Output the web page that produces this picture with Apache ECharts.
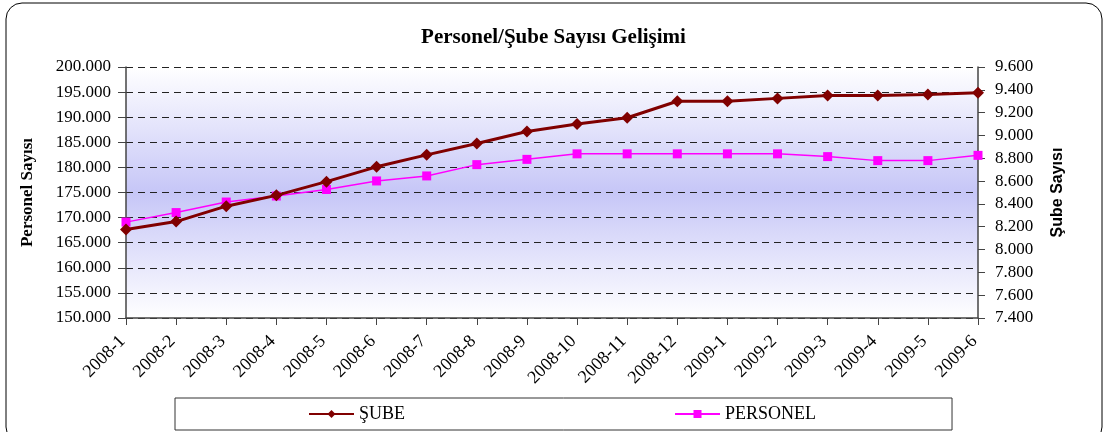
<!DOCTYPE html>
<html>
<head>
<meta charset="utf-8">
<script src="https://cdn.jsdelivr.net/npm/echarts@6/dist/echarts.min.js"></script>
<style>
    html, body { margin: 0; padding: 0; background: #fff; }
    #chart { width: 1107px; height: 432px; }
</style>
</head>
<body>
<div id="chart"></div>
<script>
// kategoriler (ay)
var months = ['2008-1', '2008-2', '2008-3', '2008-4', '2008-5', '2008-6', '2008-7', '2008-8', '2008-9',
    '2008-10', '2008-11', '2008-12', '2009-1', '2009-2', '2009-3', '2009-4', '2009-5', '2009-6'];
// şube sayısı (sağ eksen)
var subeData = [8175, 8245, 8380, 8475, 8595, 8725, 8830, 8930, 9035,
    9100, 9155, 9300, 9300, 9325, 9350, 9350, 9360, 9375];
// personel sayısı (sol eksen)
var personelData = [169100, 171000, 173100, 174300, 175600, 177300, 178300, 180550, 181600,
    182700, 182700, 182700, 182700, 182700, 182150, 181350, 181350, 182400];

var serif = '"Liberation Serif", "DejaVu Serif", serif';
var sans = '"Liberation Sans", Arial, sans-serif';

function fmt(v) {
    return String(v).replace(/\B(?=(\d{3})+(?!\d))/g, '.');
}

var dom = document.getElementById('chart');
var myChart = echarts.init(dom, null, { renderer: 'canvas' });

var option = {
    animation: false,
    title: {
        text: 'Personel/Şube Sayısı Gelişimi',
        left: 'center',
        top: 22,
        textStyle: { fontFamily: serif, fontSize: 21, fontWeight: 'bold', color: '#000' }
    },
    graphic: [{
        type: 'rect',
        shape: { x: 6, y: 3, width: 1096, height: 440, r: 16 },
        style: { fill: 'none', stroke: '#000', lineWidth: 1 },
        z: -1
    }],
    grid: {
        left: 126, right: 129, top: 67, bottom: 114,
        show: true,
        borderWidth: 0,
        backgroundColor: new echarts.graphic.LinearGradient(0, 0, 0, 1, [
            { offset: 0, color: '#ffffff' },
            { offset: 0.5, color: '#c6c6f7' },
            { offset: 1, color: '#ffffff' }
        ])
    },
    legend: {
        left: 175,
        top: 398,
        padding: [7, 136, 7, 133],
        itemGap: 269,
        itemWidth: 45,
        itemHeight: 10,
        borderColor: '#333',
        borderWidth: 1,
        textStyle: { fontFamily: serif, fontSize: 18, color: '#000' },
        data: ['ŞUBE', 'PERSONEL']
    },
    xAxis: {
        type: 'category',
        data: months,
        boundaryGap: false,
        axisLine: { lineStyle: { color: '#444', width: 1.5 } },
        axisTick: { show: true, length: 7, lineStyle: { color: '#444' } },
        axisLabel: {
            rotate: 45, fontFamily: serif, fontSize: 18, color: '#000',
            margin: 17, padding: [0, 5, 0, 0], interval: 0
        }
    },
    yAxis: [{
        type: 'value',
        min: 150000, max: 200000, interval: 5000,
        name: 'Personel Sayısı',
        nameLocation: 'middle',
        nameGap: 90,
        nameRotate: 90,
        nameTextStyle: { fontFamily: serif, fontSize: 17, fontWeight: 'bold', color: '#000' },
        axisLine: { show: true, lineStyle: { color: '#444', width: 1.5 } },
        axisTick: { show: true, length: 8, lineStyle: { color: '#444' } },
        axisLabel: { formatter: fmt, fontFamily: serif, fontSize: 17, color: '#000', margin: 15 },
        splitLine: { show: true, lineStyle: { color: '#222', type: [7, 5], width: 1 } }
    }, {
        type: 'value',
        min: 7400, max: 9600, interval: 200,
        position: 'right',
        name: 'Şube Sayısı',
        nameLocation: 'middle',
        nameGap: 72,
        nameRotate: 90,
        nameTextStyle: { fontFamily: sans, fontSize: 16, fontWeight: 'bold', color: '#000' },
        axisLine: { show: true, lineStyle: { color: '#444', width: 1.5 } },
        axisTick: { show: true, length: 7, lineStyle: { color: '#444' } },
        axisLabel: { formatter: fmt, fontFamily: serif, fontSize: 17, color: '#000', margin: 17 },
        splitLine: { show: false }
    }],
    series: [{
        name: 'ŞUBE',
        type: 'line',
        yAxisIndex: 1,
        data: subeData,
        symbol: 'diamond',
        symbolSize: 12,
        lineStyle: { color: '#800000', width: 3 },
        itemStyle: { color: '#800000' },
        z: 3
    }, {
        name: 'PERSONEL',
        type: 'line',
        yAxisIndex: 0,
        data: personelData,
        symbol: 'rect',
        symbolSize: 9,
        lineStyle: { color: '#ff00ff', width: 1.5 },
        itemStyle: { color: '#ff00ff' },
        z: 2
    }]
};

myChart.setOption(option);
window.addEventListener('resize', myChart.resize);
</script>
</body>
</html>
